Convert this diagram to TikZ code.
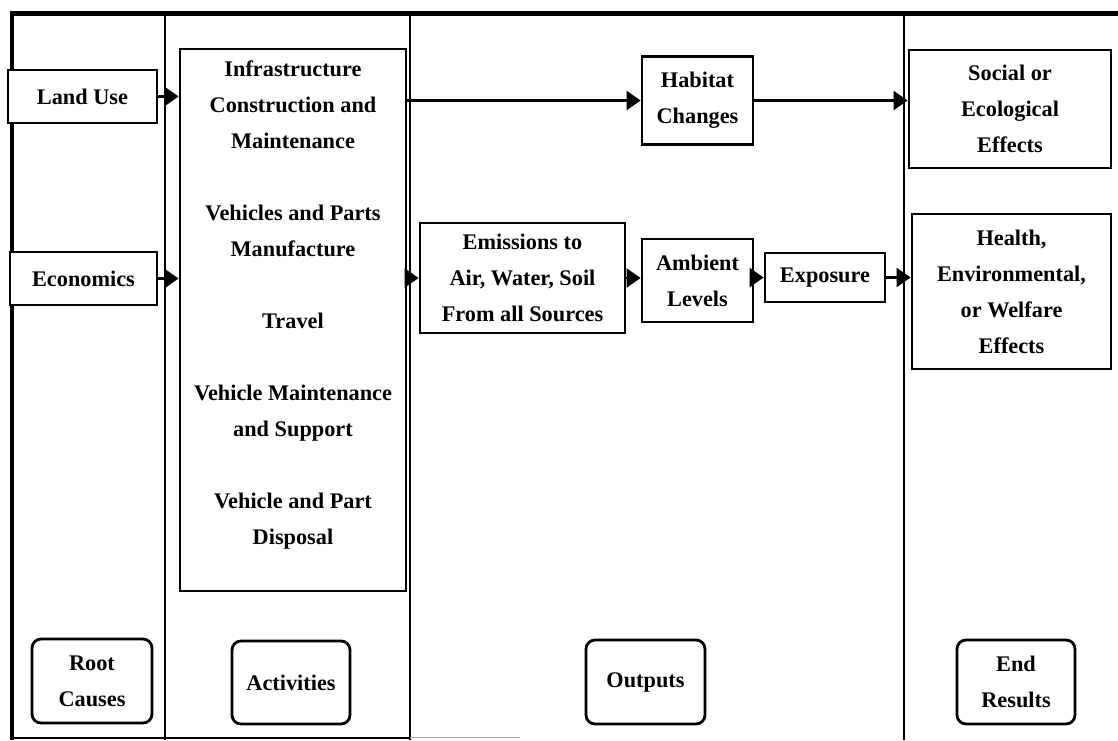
\documentclass[tikz,border=0pt]{standalone}
\usepackage{fontspec}
\setmainfont{Liberation Serif}
\usetikzlibrary{arrows.meta}
\begin{document}
\begin{tikzpicture}[x=1pt,y=-1pt,
  txtfont/.style={font=\bfseries\fontsize{22.3}{36}\selectfont},
  box/.style={draw, fill=white, line width=2.8pt, inner sep=0pt, align=center, txtfont},
  tag/.style={box, rounded corners=9pt},
  lbl/.style={inner sep=0pt, align=center, txtfont},
  flow/.style={line width=2.3pt, -{Triangle[length=14pt,width=19pt]}},
  frame/.style={line width=4.5pt},
  divider/.style={line width=2.6pt}]
\useasboundingbox (0,0) rectangle (1118,740);

% outer frame and column dividers
\draw[frame] (12,11) -- (12,740);
\draw[frame] (10,13.5) -- (1118,13.5);
\draw[divider] (165,13) -- (165,740);
\draw[divider] (410,13) -- (410,740);
\draw[divider] (904,13) -- (904,740);
\draw[line width=2pt] (12,737.5) -- (410,737.5);
\draw[line width=1.5pt, black!35] (410,737.5) -- (520,737.5);

% root causes
\node[box, minimum width=149pt, minimum height=53pt] (land) at (82.5,96.5) {Land Use};
\node[box, minimum width=147pt, minimum height=53pt] (econ) at (83.5,278.5) {Economics};

% activities
\node[box, minimum width=226pt, minimum height=542pt] (act) at (293,320) {};
\node[lbl] (acttext) at (293,305) {Infrastructure\\Construction and\\Maintenance\\[36pt]
  Vehicles and Parts\\Manufacture\\[36pt]Travel\\[36pt]
  Vehicle Maintenance\\and Support\\[36pt]Vehicle and Part\\Disposal};

% outputs
\node[box, minimum width=111pt, minimum height=88pt] (hab) at (697.5,100.5) {Habitat\\Changes};
\node[box, minimum width=205pt, minimum height=110pt] (emis) at (522.5,278) {Emissions to\\Air, Water, Soil\\From all Sources};
\node[box, minimum width=111pt, minimum height=83pt] (amb) at (697.5,280.5) {Ambient\\Levels};
\node[box, minimum width=120pt, minimum height=49pt] (expo) at (825,277.5) {Exposure};

% end results
\node[box, minimum width=202pt, minimum height=118pt] (soc) at (1010,109) {Social or\\Ecological\\Effects};
\node[box, minimum width=199pt, minimum height=155pt] (health) at (1011.5,291.5) {Health,\\Environmental,\\or Welfare\\Effects};

% column captions
\node[tag, minimum width=120pt, minimum height=84pt] (rootcap) at (92,681) {Root\\Causes};
\node[tag, minimum width=118pt, minimum height=83pt] (actcap) at (291,682.5) {Activities};
\node[tag, minimum width=119pt, minimum height=84pt] (outcap) at (645.5,682) {Outputs};
\node[tag, minimum width=118pt, minimum height=84pt] (endcap) at (1016,682) {End\\Results};

% flows
\draw[flow] (land.east) -- (act.west |- land.east);
\draw[flow] (econ.east) -- (act.west |- econ.east);
\draw[flow] (act.east |- hab.west) -- (hab.west);
\draw[flow] (hab.east) -- (soc.west |- hab.east);
\draw[flow] (act.east |- emis.west) -- (emis.west);
\draw[flow] (emis.east) -- (amb.west |- emis.east);
\draw[flow] (amb.east |- expo.west) -- (expo.west);
\draw[flow] (expo.east) -- (health.west |- expo.east);
\end{tikzpicture}
\end{document}
